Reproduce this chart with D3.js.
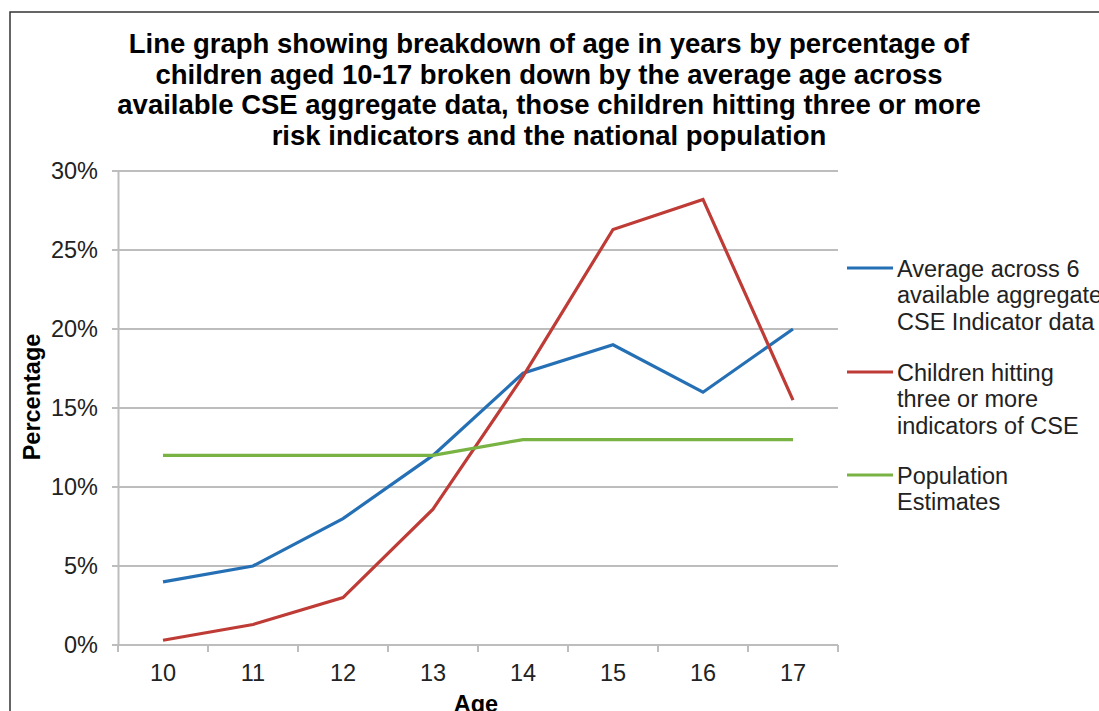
<!DOCTYPE html>
<html><head><meta charset="utf-8">
<script src="https://cdn.jsdelivr.net/npm/d3@7"></script>
<style>body{margin:0;background:#fff}svg{display:block}</style>
</head><body>
<svg id="c" width="1099" height="711"></svg>
<script>
const ages = ["10","11","12","13","14","15","16","17"];
const averageCSE = [4, 5, 8, 12, 17.2, 19, 16, 20];
const threePlus = [0.3, 1.3, 3, 8.6, 17, 26.3, 28.2, 15.5];
const population = [12, 12, 12, 12, 13, 13, 13, 13];
const yTicks = [0, 5, 10, 15, 20, 25, 30];
const seriesNames = [
  ["Average across 6", "available aggregate", "CSE Indicator data"],
  ["Children hitting", "three or more", "indicators of CSE"],
  ["Population", "Estimates"]
];
const titleLines = [
  "Line graph showing breakdown of age in years by percentage of",
  "children aged 10-17 broken down by the average age across",
  "available CSE aggregate data, those children hitting three or more",
  "risk indicators and the national population"
];
const colors = ["#2570b5", "#be3b36", "#79b343"];

const svg = d3.select("#c");
const font = "'Liberation Sans', Arial, sans-serif";
// frame
svg.append("rect").attr("x",10).attr("y",12).attr("width",1200).attr("height",800)
  .attr("fill","#fff").attr("stroke","#333").attr("stroke-width",1.5);

const L = 118, R = 838, T = 171, B = 645;
const x = d3.scaleBand().domain(ages).range([L, R]);
const y = d3.scaleLinear().domain([0, 30]).range([B, T]);

// title
svg.append("g").selectAll("text").data(titleLines).join("text")
  .attr("x", 549).attr("y", (d,i)=>53 + i*30.5)
  .attr("text-anchor","middle").attr("font-family",font).attr("font-weight","bold")
  .attr("font-size",27.5).attr("fill","#000").text(d=>d);

// gridlines
svg.append("g").selectAll("line").data(yTicks).join("line")
  .attr("x1", L-6).attr("x2", R).attr("y1", d=>y(d)).attr("y2", d=>y(d))
  .attr("stroke","#bdbdbd").attr("stroke-width",2);

// y axis
const yAxis = d3.axisLeft(y).tickValues(yTicks).tickFormat(d=>d+"%").tickSize(0).tickPadding(20);
const gy = svg.append("g").attr("transform",`translate(${L},0)`).call(yAxis);
gy.select(".domain").attr("stroke","#bdbdbd").attr("stroke-width",2);
gy.selectAll("text").attr("font-family",font).attr("font-size",23.5).attr("fill","#222");

// x axis
const xAxis = d3.axisBottom(x).tickSize(0).tickPadding(19);
const gx = svg.append("g").attr("transform",`translate(0,${B})`).call(xAxis);
gx.select(".domain").remove();
gx.selectAll("text").attr("font-family",font).attr("font-size",23.5).attr("fill","#222");
const bounds = ages.map(a=>x(a)).concat([R]);
gx.selectAll("line.tk").data(bounds).join("line").attr("class","tk")
  .attr("x1",d=>d).attr("x2",d=>d).attr("y1",0).attr("y2",7)
  .attr("stroke","#bdbdbd").attr("stroke-width",2);

// axis titles
svg.append("text").attr("transform","translate(40,397) rotate(-90)")
  .attr("text-anchor","middle").attr("font-family",font).attr("font-weight","bold")
  .attr("font-size",23.5).text("Percentage");
svg.append("text").attr("x",(L+R)/2 - 2).attr("y",712)
  .attr("text-anchor","middle").attr("font-family",font).attr("font-weight","bold")
  .attr("font-size",23.5).text("Age");

// lines
const line = d3.line().x((d,i)=>x(ages[i]) + x.bandwidth()/2).y(d=>y(d));
[averageCSE, threePlus, population].forEach((s,i)=>{
  svg.append("path").datum(s).attr("d",line).attr("fill","none")
    .attr("stroke",colors[i]).attr("stroke-width",3.2).attr("stroke-linejoin","miter");
});

// legend
const legY = [268, 372, 475];
seriesNames.forEach((lines,i)=>{
  svg.append("line").attr("x1",847).attr("x2",893).attr("y1",legY[i]).attr("y2",legY[i])
    .attr("stroke",colors[i]).attr("stroke-width",3.2);
  svg.append("g").selectAll("text").data(lines).join("text")
    .attr("x",897).attr("y",(d,j)=>legY[i]+8.5+j*26.5)
    .attr("font-family",font).attr("font-size",23.5).attr("fill","#222").text(d=>d);
});
</script>
</body></html>
